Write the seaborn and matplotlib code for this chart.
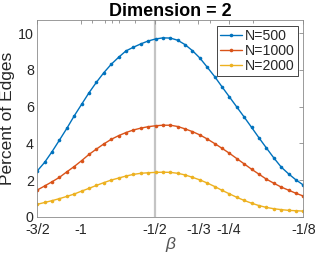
import matplotlib
matplotlib.use("Agg")
import matplotlib.pyplot as plt
import seaborn as sns
import pandas as pd
from matplotlib.ticker import FixedLocator, NullFormatter

# x grid: -1/beta (plotted on log axis)
neg_inv_beta = [0.6667, 0.7143, 0.7653, 0.8200, 0.8786, 0.9414, 1.0087, 1.0808, 1.1580,
                1.2407, 1.3294, 1.4244, 1.5262, 1.6353, 1.7522, 1.8774, 2.0115, 2.1553,
                2.3094, 2.4744, 2.6512, 2.8407, 3.0437, 3.2612, 3.4943, 3.7440, 4.0116,
                4.2983, 4.6055, 4.9346, 5.2873, 5.6651, 6.0700, 6.5038, 6.9686, 7.4666, 8.0]

n500 = [2.50, 2.97, 3.55, 4.18, 4.82, 5.50, 6.13, 6.76, 7.33, 7.85, 8.31, 8.69, 9.04,
        9.24, 9.42, 9.58, 9.69, 9.75, 9.74, 9.62, 9.38, 9.05, 8.65, 8.15, 7.64, 7.08,
        6.53, 5.98, 5.43, 4.87, 4.30, 3.75, 3.21, 2.71, 2.34, 2.01, 1.73]
n1000 = [1.46, 1.68, 1.91, 2.15, 2.45, 2.74, 3.06, 3.40, 3.69, 3.97, 4.22, 4.42, 4.59,
         4.73, 4.83, 4.91, 4.96, 4.99, 4.99, 4.92, 4.79, 4.64, 4.46, 4.24, 3.99, 3.73,
         3.46, 3.17, 2.88, 2.59, 2.32, 2.05, 1.83, 1.62, 1.45, 1.28, 1.13]
n2000 = [0.68, 0.78, 0.88, 0.99, 1.11, 1.24, 1.40, 1.55, 1.71, 1.86, 2.00, 2.11, 2.22,
         2.31, 2.37, 2.40, 2.42, 2.43, 2.42, 2.37, 2.28, 2.15, 2.01, 1.84, 1.65, 1.44,
         1.25, 1.06, 0.89, 0.74, 0.61, 0.51, 0.44, 0.39, 0.35, 0.33, 0.31]

series_names = ["N=500", "N=1000", "N=2000"]
colors = ["#0072BD", "#D95319", "#EDB120"]

tick_pos = [2/3, 1, 2, 3, 4, 8]
tick_labels = ["-3/2", "-1", "-1/2", "-1/3", "-1/4", "-1/8"]
minor_beta = [-0.9, -0.8, -0.75, -0.7, -0.6, -0.4, -0.3, -0.2]

df = pd.concat([
    pd.DataFrame({"x": neg_inv_beta, "y": vals, "series": name})
    for name, vals in zip(series_names, [n500, n1000, n2000])
])

sns.set_theme(style="white")
plt.rcParams["font.family"] = ["Liberation Sans", "DejaVu Sans"]
text_color = "#262626"

fig = plt.figure(figsize=(3.16, 2.54), dpi=100)
ax = fig.add_axes([0.118, 0.1465, 0.842, 0.7745])

ax.axvline(2, color="#c4c4c4", lw=1.6, zorder=0.5)

sns.lineplot(data=df, x="x", y="y", hue="series", hue_order=series_names,
             palette=colors, marker="o", markersize=2.6, markeredgewidth=0,
             linewidth=1.0, ax=ax, legend=False, sort=False)

ax.set_xscale("log")
ax.set_xlim(2/3, 8)
ax.set_ylim(0, 10.72)
ax.xaxis.set_major_locator(FixedLocator(tick_pos))
ax.set_xticklabels(tick_labels)
ax.xaxis.set_minor_locator(FixedLocator([-1 / b for b in minor_beta]))
ax.xaxis.set_minor_formatter(NullFormatter())
ax.set_yticks([0, 2, 4, 6, 8, 10])
ax.set_yticklabels(["0", "2", "4", "6", "8", "10"])

ax.tick_params(axis="both", which="both", direction="in", top=True, right=True,
               labelsize=10.3, colors="#8a8a8a", labelcolor=text_color, width=0.6)
ax.tick_params(axis="both", which="major", length=3)
ax.tick_params(axis="x", which="minor", length=2)
ax.tick_params(axis="x", pad=4.5)
ax.tick_params(axis="y", pad=2.5)
for s in ax.spines.values():
    s.set_color("#8a8a8a")
    s.set_linewidth(0.6)

ax.set_xlabel("β", fontsize=12.5, color="#555555", fontstyle="italic")
ax.xaxis.set_label_coords(0.5, -0.105)
ax.set_ylabel("Percent of Edges", fontsize=12.5, color=text_color)
ax.yaxis.set_label_coords(-0.083, 0.5)
ax.set_title("Dimension = 2", fontsize=13, fontweight="bold", color="black", pad=3)

handles = ax.get_lines()[1:4]
leg = ax.legend(handles, series_names, loc="upper right", fontsize=10.2,
                frameon=True, fancybox=False, framealpha=1, edgecolor="#262626",
                handlelength=1.6, handletextpad=0.2, borderpad=0.2, labelspacing=0.1,
                borderaxespad=0.4)
leg.get_frame().set_linewidth(0.6)

fig.savefig("out.png", dpi=100)
